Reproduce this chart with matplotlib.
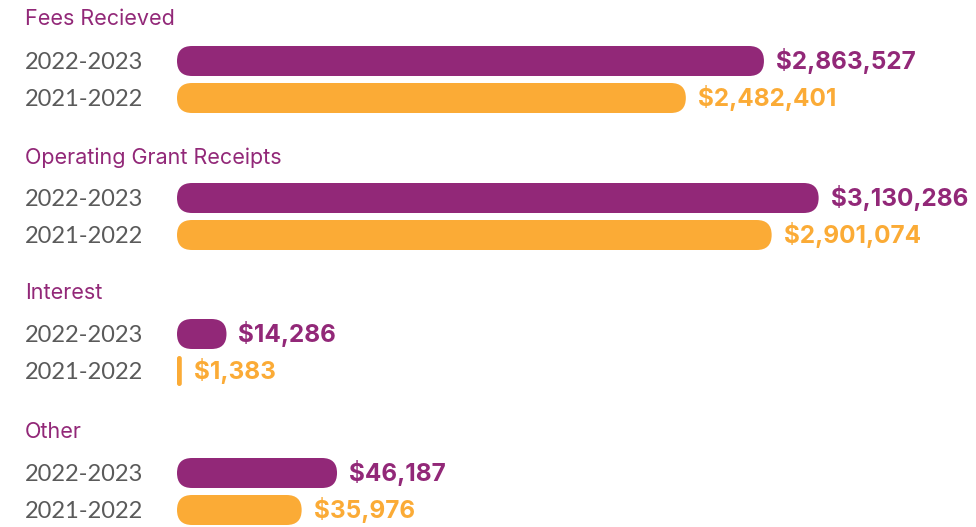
import matplotlib.pyplot as plt
from matplotlib.patches import FancyBboxPatch
from matplotlib.transforms import IdentityTransform

plt.rcParams['font.family'] = ['Inter', 'DejaVu Sans']

categories = ['Fees Recieved', 'Operating Grant Receipts', 'Interest', 'Other']
years = ['2022-2023', '2021-2022']
values_2023 = [2863527, 3130286, 14286, 46187]
values_2022 = [2482401, 2901074, 1383, 35976]
# infographic uses one scale for the large items and another for the small ones
axis_max = [3898000, 3898000, 230600, 230600]

purple = '#922878'
orange = '#fbab36'
grey = '#5a5a5a'

W, H = 976, 527
fig = plt.figure(figsize=(W / 100, H / 100), dpi=100)

left = 177
tops = [42.5, 179.5, 315.5, 454.5]   # pixel from top for each group's axes
title_y = [19, 158, 293, 432]
row_h = 37
bar_h = 30

for i, cat in enumerate(categories):
    ax = fig.add_axes([left / W, 1 - (tops[i] + 2 * row_h) / H,
                       (W - left) / W, 2 * row_h / H])
    ax.set_xlim(0, axis_max[i])
    ax.set_ylim(2, 0)
    ax.axis('off')

    fig.text(25 / W, 1 - title_y[i] / H, cat, color=purple, fontsize=15.5,
             va='center', ha='left')

    for j, (v, col) in enumerate([(values_2023[i], purple), (values_2022[i], orange)]):
        yc = j + 0.5
        x0, y0 = ax.transData.transform((0, yc))
        x1, _ = ax.transData.transform((v, yc))
        w = x1 - x0
        r = min(bar_h / 2, w / 2)
        ax.add_patch(FancyBboxPatch((x0, y0 - bar_h / 2), w, bar_h,
                                    boxstyle=f'round,pad=0,rounding_size={r}',
                                    transform=IdentityTransform(), color=col,
                                    lw=0, clip_on=False))
        ax.annotate(f'${v:,}', (v, yc), xytext=(12, 0), textcoords='offset pixels',
                    color=col, fontsize=17.5, fontweight='bold', va='center',
                    ha='left', annotation_clip=False)
        fig.text(25 / W, 1 - (tops[i] + (j + 0.5) * row_h + 1.5) / H, years[j],
                 color=grey, fontsize=17, va='center', ha='left',
                 family=['Lato', 'DejaVu Sans'])

fig.savefig('out.png', dpi=100)
